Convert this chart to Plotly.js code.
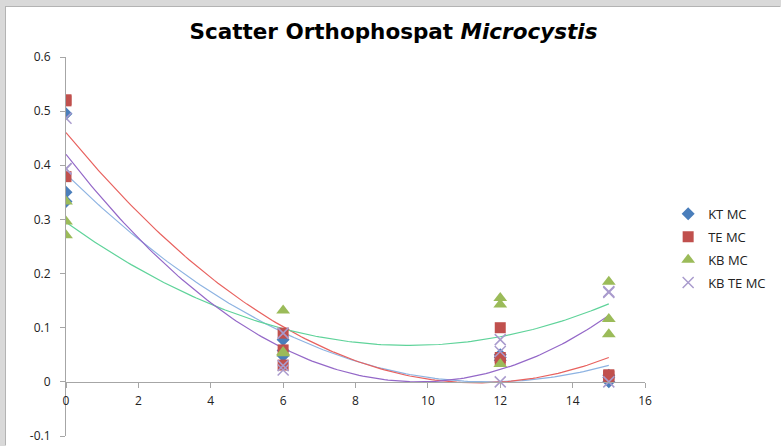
<!DOCTYPE html>
<html>
<head>
<meta charset="utf-8">
<script src="https://cdn.plot.ly/plotly-3.0.1.min.js"></script>
<style>
  html, body { margin: 0; padding: 0; background: #d9d9d9; width: 781px; height: 446px; overflow: hidden; }
  #chart { position: absolute; left: 6px; top: 7px; width: 775px; height: 439px; background: #fff;
           box-shadow: -1px -1px 0 #b3b3b3; }
</style>
</head>
<body>
<div id="chart"></div>
<script>
// Sampling days (three replicates per day)
const days = [0, 0, 0, 6, 6, 6, 12, 12, 12, 15, 15, 15];

// Orthophosphate readings per treatment
const ktMC   = [0.495, 0.350, 0.333, 0.078, 0.058, 0.048, 0.050, 0.045, 0.040, 0.000, 0.012, 0.008];
const teMC   = [0.521, 0.379, 0.519, 0.090, 0.059, 0.031, 0.100, 0.041, 0.045, 0.013, 0.010, 0.012];
const kbMC   = [0.333, 0.296, 0.271, 0.132, 0.053, 0.055, 0.155, 0.143, 0.033, 0.185, 0.116, 0.088];
const kbteMC = [0.487, 0.394, 0.393, 0.022, 0.090, 0.030, 0.078, 0.056, 0.000, 0.167, 0.000, 0.165];

const seriesNames = ['KT MC', 'TE MC', 'KB MC', 'KB TE MC'];
const xTicks = [0, 2, 4, 6, 8, 10, 12, 14, 16];
const yTicks = [-0.1, 0, 0.1, 0.2, 0.3, 0.4, 0.5, 0.6];

// Least-squares fit of a 2nd-order polynomial (y = a + b x + c x^2)
function polyFit2(xs, ys) {
  let s = [0, 0, 0, 0, 0], t = [0, 0, 0];
  for (let i = 0; i < xs.length; i++) {
    let p = 1;
    for (let k = 0; k < 5; k++) { s[k] += p; if (k < 3) t[k] += p * ys[i]; p *= xs[i]; }
  }
  const M = [[s[0], s[1], s[2], t[0]], [s[1], s[2], s[3], t[1]], [s[2], s[3], s[4], t[2]]];
  for (let i = 0; i < 3; i++) {
    for (let j = i + 1; j < 3; j++) {
      const f = M[j][i] / M[i][i];
      for (let k = i; k < 4; k++) M[j][k] -= f * M[i][k];
    }
  }
  const c = [0, 0, 0];
  for (let i = 2; i >= 0; i--) {
    let v = M[i][3];
    for (let k = i + 1; k < 3; k++) v -= M[i][k] * c[k];
    c[i] = v / M[i][i];
  }
  return c;
}

function trendTrace(ys, color) {
  const c = polyFit2(days, ys);
  const lo = Math.min(...days), hi = Math.max(...days);
  const xs = [], yv = [];
  for (let i = 0; i <= 150; i++) {
    const x = lo + (hi - lo) * i / 150;
    xs.push(x); yv.push(c[0] + c[1] * x + c[2] * x * x);
  }
  return { x: xs, y: yv, type: 'scatter', mode: 'lines', showlegend: false, hoverinfo: 'skip',
           line: { color: color, width: 1.2 } };
}

const traces = [
  trendTrace(ktMC,   '#8db3e2'),
  trendTrace(teMC,   '#e8615e'),
  trendTrace(kbMC,   '#5fd39a'),
  trendTrace(kbteMC, '#9468c8'),
  { x: days, y: ktMC, name: seriesNames[0], type: 'scatter', mode: 'markers', legendgroup: 'a',
    marker: { symbol: 'diamond', size: 10, color: '#4a7ebb' } },
  { x: days, y: teMC, name: seriesNames[1], type: 'scatter', mode: 'markers', legendgroup: 'b',
    marker: { symbol: 'square', size: 11, color: '#c0504d' } },
  { x: days, y: kbMC, name: seriesNames[2], type: 'scatter', mode: 'markers', legendgroup: 'c',
    marker: { symbol: 'triangle-up', size: 12, color: '#9bbb59' } },
  { x: days, y: kbteMC, name: seriesNames[3], type: 'scatter', mode: 'markers', legendgroup: 'd',
    marker: { symbol: 'x-thin-open', size: 11, color: '#a99bcd', line: { width: 1.5, color: '#a99bcd' } } }
];

const tickFont = { family: 'Open Sans, Liberation Sans, sans-serif', size: 12, color: '#222' };

const layout = {
  width: 775, height: 439,
  margin: { l: 60, r: 127, t: 50, b: 10 },
  paper_bgcolor: '#ffffff', plot_bgcolor: 'rgba(0,0,0,0)',
  title: {
    text: 'Scatter Orthophospat <i>Microcystis</i>',
    font: { family: 'DejaVu Sans, Open Sans, sans-serif', size: 21.5, color: '#000', weight: 'bold' },
    x: 0.5, xanchor: 'center', xref: 'container', y: 1 - 24 / 439, yref: 'container', yanchor: 'middle'
  },
  xaxis: {
    range: [0, 16], tickvals: xTicks, ticktext: xTicks.map(String),
    showgrid: false, zeroline: false, showline: true, linecolor: '#a6a6a6', linewidth: 1,
    ticks: 'outside', ticklen: 5, tickcolor: '#a6a6a6', tickfont: tickFont,
    anchor: 'free', position: 0.1 / 0.7, ticklabelstandoff: 3, fixedrange: true
  },
  yaxis: {
    range: [-0.1, 0.6], tickvals: yTicks, ticktext: yTicks.map(v => String(+v.toFixed(1))),
    showgrid: false, zeroline: false, showline: true, linecolor: '#a6a6a6', linewidth: 1,
    ticks: 'outside', ticklen: 5, tickcolor: '#a6a6a6', tickfont: tickFont,
    ticklabelstandoff: 7, fixedrange: true
  },
  legend: {
    x: 1.04, xanchor: 'left', y: 0.495, yanchor: 'middle',
    font: { family: 'Open Sans, Liberation Sans, sans-serif', size: 13, color: '#222' },
    tracegroupgap: 3, bgcolor: 'rgba(0,0,0,0)'
  },
  showlegend: true, hovermode: false
};

Plotly.newPlot('chart', traces, layout, { displayModeBar: false, staticPlot: true });
</script>
</body>
</html>
